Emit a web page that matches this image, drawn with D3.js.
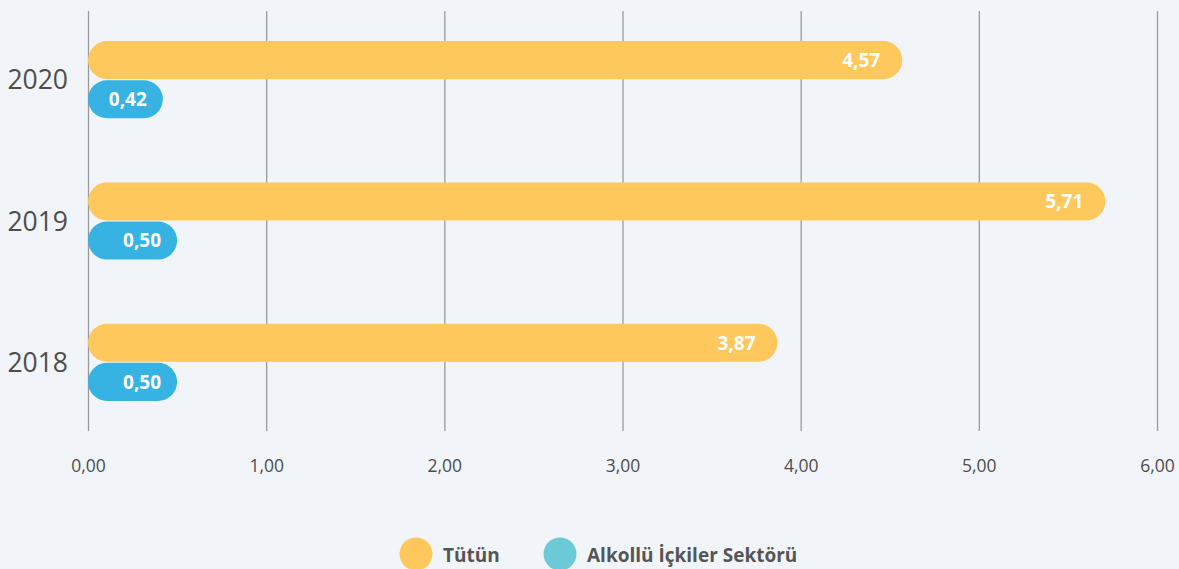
<!DOCTYPE html>
<meta charset="utf-8">
<script src="https://d3js.org/d3.v7.min.js"></script>
<style>
  body { margin: 0; background: #f1f5f9; }
  text { font-family: "Open Sans", sans-serif; }
</style>
<div id="my_dataviz"></div>
<script>

// data
var years = ["2020", "2019", "2018"]
var tutun = [4.57, 5.71, 3.87]
var alkol = [0.42, 0.50, 0.50]
var seriesNames = ["Tütün", "Alkollü İçkiler Sektörü"]
var tickValues = [0, 1, 2, 3, 4, 5, 6]

var W = 1179, H = 569
var margin = {left: 88, right: 22, top: 11, bottom: 138}
var width = W - margin.left - margin.right
var height = H - margin.top - margin.bottom

var svg = d3.select("#my_dataviz")
  .append("svg")
  .attr("width", W)
  .attr("height", H)
  .style("background", "#f1f5f9")

var g = svg.append("g")
  .attr("transform", "translate(" + margin.left + "," + margin.top + ")")

var x = d3.scaleLinear().domain([0, 6]).range([0, width])

var y = d3.scaleBand().domain(years).range([0, height]).paddingInner(0.454).paddingOuter(0.213)

// vertical grid lines + tick labels
var xAxis = g.append("g")
  .attr("transform", "translate(0," + height + ")")
  .call(d3.axisBottom(x).tickValues(tickValues)
    .tickSize(height)
    .tickFormat(function(d) { return d3.format(".2f")(d).replace(".", ","); }))
xAxis.select(".domain").remove()
xAxis.selectAll(".tick line")
  .attr("y1", -height).attr("y2", 0)
  .attr("stroke", "#9a9a9a").attr("stroke-width", 1.3)
xAxis.selectAll(".tick text")
  .attr("y", 35)
  .attr("dy", "0.35em")
  .style("font-size", "17.5px")
  .attr("fill", "#4d4d4d")

// year labels
g.selectAll(".year")
  .data(years)
  .enter().append("text")
  .attr("x", -20)
  .attr("y", function(d) { return y(d) + y.bandwidth() / 2; })
  .attr("text-anchor", "end")
  .attr("dy", "0.36em")
  .style("font-size", "26.5px")
  .attr("fill", "#4d4d4d")
  .text(function(d) { return d; })

var barH = y.bandwidth() / 2 - 0.5
var colors = ["#ffc85c", "#36b3e3"]
var legendColors = ["#ffc85c", "#6ccad6"]
var labelGap = [22, 16]

var rows = years.map(function(yr, i) {
  return [{year: yr, value: tutun[i], s: 0}, {year: yr, value: alkol[i], s: 1}]
})

var bars = g.selectAll(".row")
  .data(rows)
  .enter().append("g")
  .selectAll("g")
  .data(function(d) { return d; })
  .enter().append("g")

bars.append("rect")
  .attr("x", 0)
  .attr("y", function(d) { return y(d.year) + d.s * (barH + 1); })
  .attr("width", function(d) { return x(d.value); })
  .attr("height", barH)
  .attr("rx", barH / 2)
  .attr("fill", function(d) { return colors[d.s]; })

bars.append("text")
  .attr("x", function(d) { return x(d.value) - labelGap[d.s]; })
  .attr("y", function(d) { return y(d.year) + d.s * (barH + 1) + barH / 2; })
  .attr("dy", "0.36em")
  .attr("text-anchor", "end")
  .style("font-size", "19px")
  .style("font-weight", "bold")
  .attr("fill", "#fff")
  .text(function(d) { return d3.format(".2f")(d.value).replace(".", ","); })

// legend
var legend = svg.append("g")
var lx = [416, 560]
seriesNames.forEach(function(name, i) {
  legend.append("circle").attr("cx", lx[i]).attr("cy", 554).attr("r", 16.5).attr("fill", legendColors[i])
  legend.append("text").attr("x", lx[i] + 27).attr("y", 555).attr("dy", "0.36em")
    .style("font-size", "19px").style("font-weight", "bold").attr("fill", "#555")
    .text(name)
})
</script>
